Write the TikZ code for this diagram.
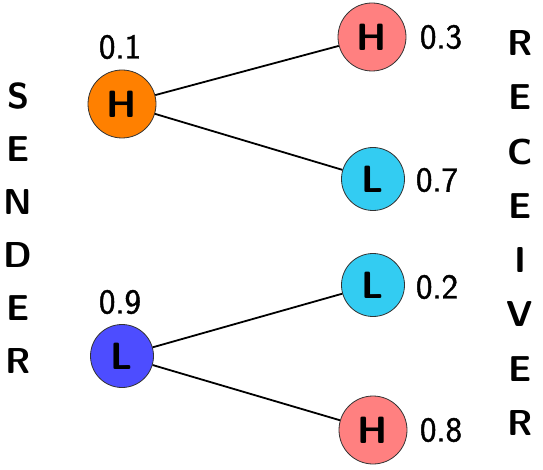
\documentclass[tikz,border=0pt]{standalone}
\usepackage{fontspec}
\newfontfamily\probfont[FakeBold=1.2]{Latin Modern Sans}
\begin{document}
\begin{tikzpicture}[x=1pt,y=-1pt,
  state/.style={circle,draw=black!80,line width=0.8pt,inner sep=0pt,font=\fontsize{38}{44}\selectfont\sffamily\bfseries},
  hstate/.style={state,minimum size=68pt},
  lstate/.style={state,minimum size=63pt},
  prob/.style={font=\fontsize{35}{40}\selectfont\probfont},
  side/.style={font=\fontsize{36}{42}\selectfont\sffamily\bfseries},
  edge/.style={line width=1.8pt,black}]
\useasboundingbox (0,0) rectangle (543,470);
\definecolor{sorange}{HTML}{FF8000}
\definecolor{spink}{HTML}{FF8080}
\definecolor{scyan}{HTML}{33CCF2}
\definecolor{sblue}{HTML}{4D4DFF}
\node[hstate,fill=sorange] (sh) at (122,104) {H};
\node[lstate,fill=sblue] (sl) at (122,356) {L};
\node[hstate,fill=spink] (rh1) at (372,37) {H};
\node[lstate,fill=scyan] (rl1) at (373,179) {L};
\node[lstate,fill=scyan] (rl2) at (373,285) {L};
\node[hstate,fill=spink] (rh2) at (373,430) {H};
\draw[edge] (sh) -- (rh1);
\draw[edge] (sh) -- (rl1);
\draw[edge] (sl) -- (rl2);
\draw[edge] (sl) -- (rh2);
\node[prob] (p1) at (120,47) {0.1};
\node[prob] (p9) at (120,302) {0.9};
\node[prob] (p3) at (441,37) {0.3};
\node[prob] (p7) at (437,180) {0.7};
\node[prob] (p2) at (437,287) {0.2};
\node[prob] (p8) at (441,430) {0.8};
\foreach \c/\y [count=\i] in {S/96,E/149,N/202,D/255,E/308,R/361}
  \node[side] (s\i) at (18,\y) {\c};
\foreach \c/\y [count=\i] in {R/43,E/97,C/152,E/206,I/260,V/314,E/369,R/423}
  \node[side] (r\i) at (520,\y) {\c};
\end{tikzpicture}
\end{document}
